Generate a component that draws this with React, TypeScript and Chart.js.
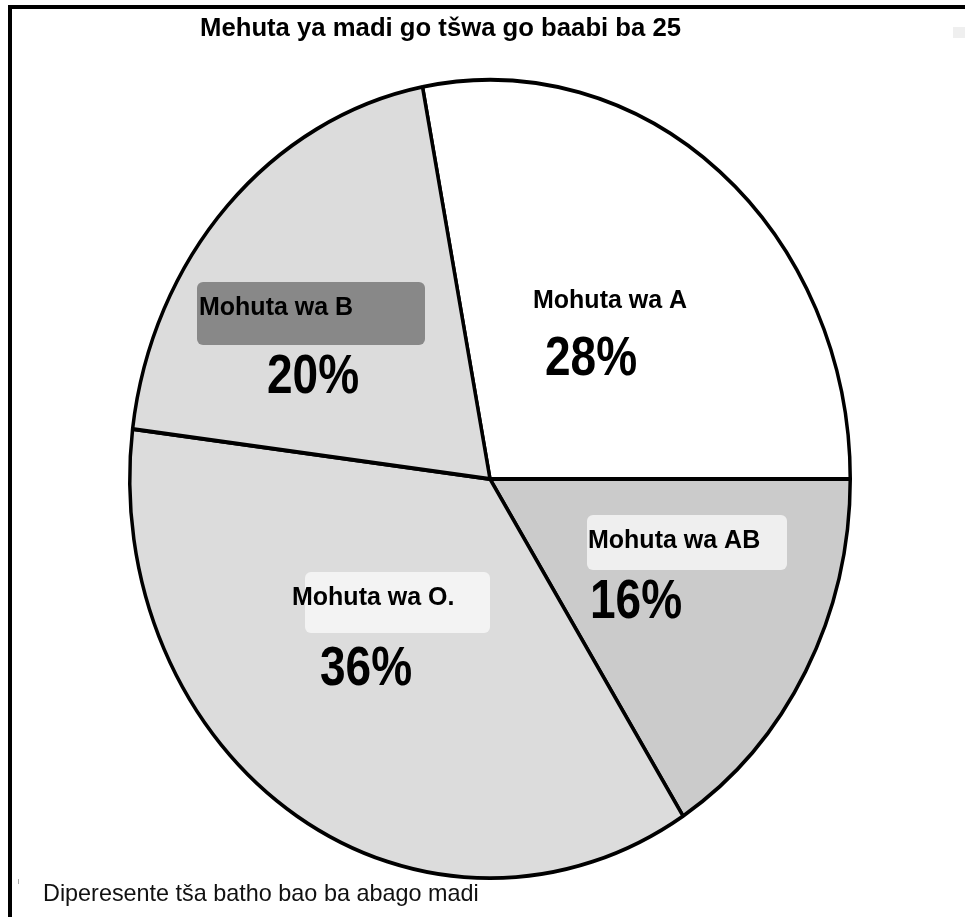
import { useEffect, useRef } from 'react';
import { Chart, registerables } from 'chart.js';

Chart.register(...registerables);

const categories = ['Mohuta wa A', 'Mohuta wa AB', 'Mohuta wa O.', 'Mohuta wa B'];
const percentages = [28, 16, 36, 20];
const percentLabels = ['28%', '16%', '36%', '20%'];
const sliceColors = ['#ffffff', '#cbcbcb', '#dcdcdc', '#dcdcdc'];
const labelBoxColors = [null, '#efefef', '#f3f3f3', '#888888'];
const titleText = 'Mehuta ya madi go tšwa go baabi ba 25';
const footerText = 'Diperesente tša batho bao ba abago madi';

const FONT = '"Liberation Sans", Arial, Helvetica, sans-serif';
const Y_STRETCH = 1.108;

// label layout, offsets relative to pie centre
const labelLayout = [
  { name: [43, -171], pct: [55, -104], box: null },
  { name: [98, 69], pct: [100, 139], box: [97, 36, 200, 55] },
  { name: [-198, 126], pct: [-170, 206], box: [-185, 93, 185, 61] },
  { name: [-291, -164], pct: [-223, -86], box: [-293, -197, 228, 63] },
];

export default function App() {
  const ref = useRef<HTMLCanvasElement | null>(null);

  useEffect(() => {
    if (!ref.current) return;

    const stretchPlugin = {
      id: 'stretch',
      beforeDatasetsDraw(chart: any) {
        const arc = chart.getDatasetMeta(0).data[0];
        const ctx = chart.ctx;
        ctx.save();
        ctx.translate(arc.x, arc.y);
        ctx.scale(1, Y_STRETCH);
        ctx.translate(-arc.x, -arc.y);
      },
      afterDatasetsDraw(chart: any) {
        chart.ctx.restore();
      },
    };

    const decorPlugin = {
      id: 'decor',
      beforeDraw(chart: any) {
        const ctx = chart.ctx;
        ctx.save();
        ctx.fillStyle = '#ffffff';
        ctx.fillRect(0, 0, chart.width, chart.height);
        ctx.restore();
      },
      afterDraw(chart: any) {
        const ctx = chart.ctx;
        const arc = chart.getDatasetMeta(0).data[0];
        const cx = arc.x;
        const cy = arc.y;
        ctx.save();
        // frame
        ctx.fillStyle = '#000000';
        ctx.fillRect(8, 5, chart.width - 8, 4);
        ctx.fillRect(8, 5, 4, chart.height - 5);
        ctx.fillStyle = '#efefef';
        ctx.fillRect(953, 27, 12, 11);
        ctx.fillStyle = '#aaaaaa';
        ctx.fillRect(18, 879, 1, 5);

        // title & footer
        ctx.fillStyle = '#000000';
        ctx.textAlign = 'left';
        ctx.textBaseline = 'alphabetic';
        ctx.font = `bold 25.7px ${FONT}`;
        ctx.fillText(titleText, 200, 36);
        ctx.font = `23.4px ${FONT}`;
        ctx.fillStyle = '#111111';
        ctx.fillText(footerText, 43, 901);

        // slice labels
        categories.forEach((name, i) => {
          const lay = labelLayout[i];
          if (lay.box && labelBoxColors[i]) {
            const [bx, by, bw, bh] = lay.box;
            ctx.fillStyle = labelBoxColors[i] as string;
            ctx.beginPath();
            (ctx as any).roundRect(cx + bx, cy + by, bw, bh, 6);
            ctx.fill();
          }
          ctx.fillStyle = '#000000';
          ctx.font = `bold 25px ${FONT}`;
          ctx.fillText(name, cx + lay.name[0], cy + lay.name[1]);
          ctx.save();
          ctx.translate(cx + lay.pct[0], cy + lay.pct[1]);
          ctx.scale(1, 1.2);
          ctx.font = `bold 46px ${FONT}`;
          ctx.fillText(percentLabels[i], 0, 0);
          ctx.restore();
        });
        ctx.restore();
      },
    };

    const chart = new Chart(ref.current, {
      type: 'pie',
      data: {
        labels: categories,
        datasets: [
          {
            data: percentages,
            backgroundColor: sliceColors,
            borderColor: '#000000',
            borderWidth: 3.5,
            clip: false as any,
          },
        ],
      },
      options: {
        responsive: false,
        animation: false,
        rotation: -10.8,
        layout: { padding: { left: 128, right: 113, top: 117, bottom: 76 } },
        plugins: {
          legend: { display: false },
          title: { display: false },
          tooltip: { enabled: false },
        },
      },
      plugins: [decorPlugin, stretchPlugin],
    });
    return () => chart.destroy();
  }, []);

  return (
    <div style={{ position: 'absolute', left: 0, top: 0, width: 965, height: 917 }}>
      <canvas ref={ref} width={965} height={917} style={{ display: 'block' }} />
    </div>
  );
}
